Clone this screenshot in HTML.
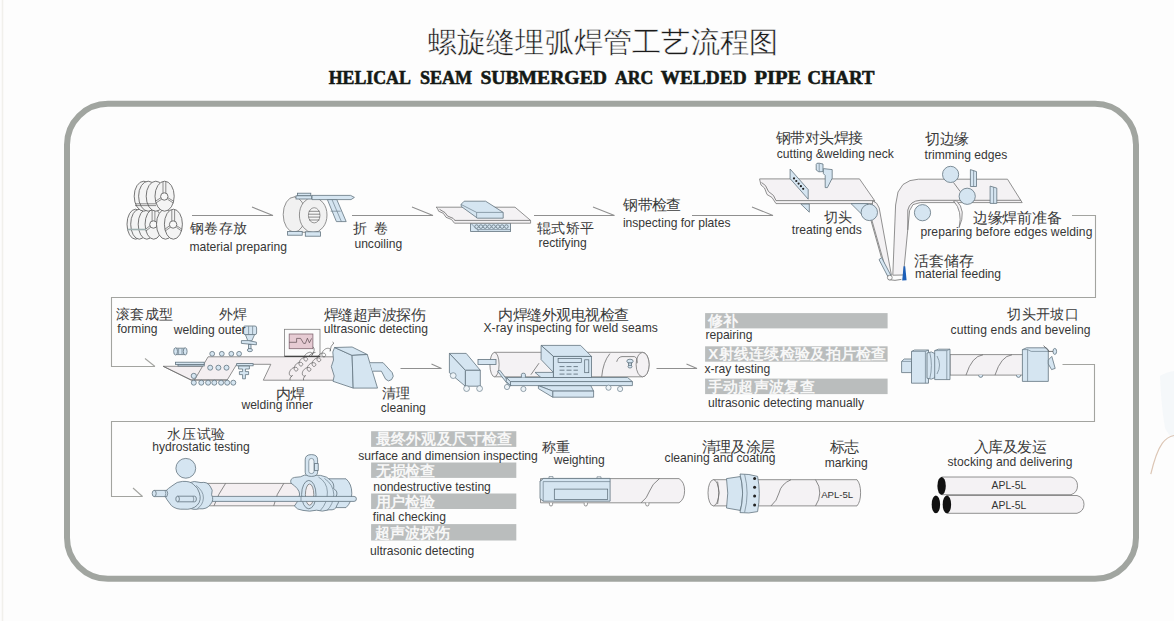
<!DOCTYPE html>
<html><head><meta charset="utf-8"><title>Helical Seam Submerged Arc Welded Pipe Chart</title>
<style>
html,body{margin:0;padding:0;background:#fdfdfd;}
body{width:1174px;height:621px;overflow:hidden;position:relative;font-family:"Liberation Sans",sans-serif;}
svg{position:absolute;left:0;top:0;}
.t{font-family:"Liberation Sans",sans-serif;font-size:12.1px;fill:#363636;transform:translateX(-0.6px);}
.c{font-family:"Liberation Sans",sans-serif;fill:#3b3b3b;transform:translateY(0.5px);}
.b{font-family:"Liberation Sans",sans-serif;font-size:15px;font-weight:700;fill:#f7f7f7;transform:translateY(1px);}
.ln{stroke:#a3a4a0;stroke-width:1.1;fill:none;}
.ar{stroke:#8f8f8f;stroke-width:1.05;fill:none;}
.bl{fill:#d5e5f1;stroke:#62737f;stroke-width:0.8;}
.pp{fill:#f4f2f4;stroke:#767676;stroke-width:0.8;}
.ol{fill:none;stroke:#6d6d6d;stroke-width:0.8;}
.bar{fill:#babdbd;}
.cl{fill:#f4f4f4;stroke:#5f5f5f;stroke-width:0.85;}
.clh{fill:#f8f8f8;stroke:#5f5f5f;stroke-width:0.85;}
.cs{fill:none;stroke:#5f5f5f;stroke-width:0.7;}
.band{fill:none;stroke:#9fb0b0;stroke-width:1.6;}
.pp2{fill:#f1f1f1;stroke:#707070;stroke-width:0.75;}
.hub{fill:#f6f6f6;stroke:#6f6f6f;stroke-width:0.7;}
.bls{fill:none;stroke:#6d7f8c;stroke-width:0.7;}
.dot{fill:#222;}
.faint{fill:#f5f8fa;stroke:none;}
.brn{fill:none;stroke:#dcc6b5;stroke-width:1.2;}
.edge{fill:none;stroke:#f1f0ec;stroke-width:1.5;}
.apl{font-family:"Liberation Sans",sans-serif;fill:#333;}
.wh2{fill:#eef4f8;stroke:#6d7f8c;stroke-width:0.7;}
.bls2{fill:#d5e5f1;stroke:#556672;stroke-width:0.7;}
.dash{fill:none;stroke:#556672;stroke-width:0.8;}
.thin{fill:none;stroke:#555;stroke-width:0.8;}
.pp3{fill:#f4eff1;stroke:#767676;stroke-width:0.8;}
.mon{fill:#fbfbfb;stroke:#808080;stroke-width:0.8;}
.pink{fill:#e6cbd3;stroke:#806570;stroke-width:0.8;}
.wave{fill:none;stroke:#5a4a50;stroke-width:0.7;}
.thk{fill:none;stroke:#444;stroke-width:1.3;}
.wire{fill:none;stroke:#444;stroke-width:0.6;}
.wh{fill:#fbfbfb;stroke:#6d6d6d;stroke-width:0.7;}
.dk{fill:#111;}
.blu{fill:#1c5fb8;}
</style></head>
<body>
<svg width="1174" height="621" viewBox="0 0 1174 621">
<!-- page inner white -->
<rect x="67" y="103.8" width="1069" height="475" rx="41" ry="41" fill="#fdfdfd" stroke="#a1a5a0" stroke-width="6"/>

<ellipse class="cl" cx="135.6" cy="224.2" rx="8.6" ry="15.0" />
<ellipse class="cl" cx="139.3" cy="224.2" rx="8.6" ry="15.0" />
<ellipse class="cl" cx="146.8" cy="224.2" rx="8.6" ry="15.0" />
<ellipse class="cl" cx="153.7" cy="224.2" rx="8.6" ry="15.0" />
<circle class="clh" cx="153.4" cy="224.5" r="3.7" />
<path class="cs" d="M152.1 209.8V221.1M154.9 209.8V221.1" />
<path class="cs" d="M150.0 225.7L145.6 229.2M150.5 227.4L145.9 231.0M156.9 225.7L161.8 229.2M156.8 227.4L161.5 231.0" />
<path class="band" d="M127.5 229.5H146" />
<ellipse class="cl" cx="165.5" cy="224.2" rx="9.0" ry="15.0" />
<ellipse class="cl" cx="173.4" cy="224.2" rx="9.0" ry="15.0" />
<circle class="clh" cx="173.1" cy="224.5" r="3.7" />
<path class="cs" d="M171.8 209.8V221.1M174.6 209.8V221.1" />
<path class="cs" d="M169.7 225.7L164.9 229.2M170.2 227.4L165.2 231.0M176.6 225.7L181.9 229.2M176.5 227.4L181.6 231.0" />
<ellipse class="cl" cx="143.8" cy="196.2" rx="9.6" ry="15.0" />
<ellipse class="cl" cx="148.2" cy="196.2" rx="9.6" ry="15.0" />
<ellipse class="cl" cx="155.8" cy="196.2" rx="9.6" ry="15.0" />
<ellipse class="cl" cx="164.6" cy="196.2" rx="9.6" ry="15.0" />
<circle class="clh" cx="164.3" cy="196.5" r="3.7" />
<path class="cs" d="M163.0 181.8V193.1M165.8 181.8V193.1" />
<path class="cs" d="M160.9 197.7L155.5 201.2M161.4 199.4L155.8 203.0M167.8 197.7L173.7 201.2M167.7 199.4L173.4 203.0" />
<path class="cs" d="M135 203.8H156" />
<path class="cs" d="M135 205.6H156" />
<polygon class="pp2" points="294.0,197.0 313.0,197.4 313.0,232.6 294.0,232.0" />
<ellipse class="pp2" cx="294.2" cy="214.5" rx="11.0" ry="17.6" />
<ellipse class="pp2" cx="313.2" cy="215.0" rx="13.8" ry="17.6" />
<ellipse class="hub" cx="314.2" cy="215.3" rx="5.8" ry="7.6" />
<path class="cs" d="M308.8 211.3H319.6M308.5 214.2H320M308.5 217.1H320M309 220H319.4" />
<rect class="bl" x="297.4" y="193.2" width="13.4" height="2.6" />
<rect class="bl" x="296.0" y="195.8" width="15.8" height="3.2" />
<path class="bl" d="M312 195.4H350.6L354.4 197.4L351 199.6H312Z" />
<path class="bl" d="M327.4 199.6L336.8 199.6L346.2 221.6L336.4 221.6Z" />
<path class="bls" d="M332 199.6L341.4 221.6M330.6 211.2H340.6" />
<rect class="bl" x="287.6" y="231.4" width="14.6" height="3.8" />
<rect class="bl" x="305.3" y="231.8" width="15.3" height="4.4" />
<rect class="bl" x="470.6" y="223.0" width="40.0" height="8.4" />
<path class="bls" d="M470.6 223L479 231.4" />
<circle class="bl" cx="476.6" cy="226.6" r="1.8" />
<circle class="bl" cx="480.9" cy="226.6" r="1.8" />
<circle class="bl" cx="485.1" cy="226.6" r="1.8" />
<circle class="bl" cx="489.4" cy="226.6" r="1.8" />
<circle class="bl" cx="493.6" cy="226.6" r="1.8" />
<circle class="bl" cx="497.9" cy="226.6" r="1.8" />
<circle class="bl" cx="502.1" cy="226.6" r="1.8" />
<circle class="bl" cx="506.4" cy="226.6" r="1.8" />
<path class="bls" d="M477 229.6H510.6" />
<polygon class="pp" points="436.0,207.2 515.0,207.2 530.6,220.4 530.6,223.2 454.5,223.2 451.5,219.5 446.0,217.3 443.4,213.4 438.6,211.2 437.6,208.6" />
<path class="ol" d="M454.5 220.4H530.6" />
<path class="ol" d="M439.5 209.3L445 212.6L447.5 216L453 218.3L455 220.4" />
<polygon class="bl" points="464.2,201.2 485.6,201.2 503.2,212.4 503.2,218.2 477.5,218.2 461.2,206.4 461.2,204.2" />
<path class="bls" d="M461.2 204.5L476.6 212.4H503.2M476.6 212.4V218.2" />
<polygon class="pp" points="759.6,178.9 859.5,178.9 874.6,200.6 874.6,203.6 776.0,203.6 772.0,197.5 767.0,194.5 764.5,188.0 761.0,185.0 760.0,181.0" />
<path class="ol" d="M776 200.6H874.6" />
<path class="ol" d="M761.5 182.5L765.5 185.6L768.5 191.5L773.5 195.5L776 200.6" />
<polygon class="bl" points="790.1,169.0 808.2,189.6 808.2,199.2 790.1,178.6" />
<polygon class="bl" points="800.8,204.0 809.3,204.0 809.3,212.2" />
<circle class="dot" cx="794.0" cy="178.4" r="1.1" />
<circle class="dot" cx="796.3" cy="181.0" r="1.1" />
<circle class="dot" cx="798.6" cy="183.6" r="1.1" />
<circle class="dot" cx="800.9" cy="186.2" r="1.1" />
<circle class="dot" cx="803.2" cy="188.8" r="1.1" />
<path class="bl" d="M816.2 164.4Q816.2 162.8 819.2 163.2L823 164V171.6Q818 172.8 816.2 170Z" />
<polygon class="bl" points="823.4,168.6 832.2,169.6 832.2,178.2 827.4,187.6 825.2,187.6 825.2,175.5 823.4,173.6" />
<path class="bls" d="M819.2 163.4V171.8" />
<polygon class="bl" points="851.0,203.6 868.0,203.6 862.0,214.5" />
<polygon class="pp" points="872.6,200.8 876.6,203.2 879.2,208.0 891.4,275.2 887.6,275.6 871.6,219.2" />
<path class="ol" d="M871 220.5L881.4 257.4" />
<polygon class="bl" points="879.0,259.6 881.6,257.6 891.0,275.6 888.4,277.6" />
<circle class="bl" cx="869.3" cy="212.4" r="8.2" />
<polygon class="pp" points="892.8,275.2 895.6,205.0 898.0,192.0 903.0,184.5 910.0,180.6 918.5,179.2 1007.5,179.2 1022.2,202.6 920.2,202.6 913.0,204.6 909.6,210.6 903.4,275.0" />
<path class="ol" d="M920.2 200.3H1021" />
<path class="ol" d="M920.2 200.3Q910 200.8 907.8 210V229.9" />
<path class="ol" d="M888.6 279.6Q895 281.2 901.4 279.4" />
<circle class="wh" cx="889.8" cy="277.6" r="2.4" />
<polygon class="blu" points="902.2,280.4 906.6,280.2 905.2,266.2 903.6,266.2" />
<path class="ol" d="M953.5 182.5L960.2 191.5" />
<circle class="bl" cx="950.6" cy="174.4" r="8.1" />
<circle class="bl" cx="967.2" cy="196.3" r="8.1" />
<circle class="bl" cx="922.5" cy="212.7" r="8.1" />
<polygon class="bl" points="970.4,169.6 976.5,171.6 976.5,186.5 970.4,186.5" />
<path class="bls" d="M973.6 170.6V186.5" />
<polygon class="bl" points="990.1,186.1 996.8,188.1 996.8,203.4 990.1,203.4" />
<path class="bls" d="M993.6 187.1V203.4" />
<path class="pp" d="M956.3 200.6Q966.8 210 959.1 227.6Q962.8 211 953.6 201Z" />
<path class="pp3" d="M163.2 366.3H205L194.5 380H191.1Z" />
<path class="pp3" d="M194.5 380L208.1 356.8H336V380.2H263.3L270.8 364.3H236.7L227.2 380Z" />
<path class="ol" d="M163.2 366.3L191.1 380H227.2" />
<rect class="bl" x="175.4" y="362.2" width="28.8" height="2.2" />
<rect class="bl" x="178.0" y="364.4" width="26.2" height="1.6" />
<rect class="bl" x="236.7" y="363.6" width="16.4" height="2.2" />
<path class="bl" d="M175.5 348.2H185.2V354.6H175.5Z" />
<ellipse class="bl" cx="175.6" cy="351.4" rx="1.9" ry="3.6" />
<ellipse class="bl" cx="185.2" cy="351.4" rx="1.9" ry="3.6" />
<path class="bls" d="M178.6 348.6V354.2M182 348.6V354.2" />
<circle class="bl" cx="212.2" cy="353.8" r="2.4" />
<circle class="bl" cx="221.8" cy="353.8" r="2.4" />
<circle class="bl" cx="231.3" cy="353.8" r="2.4" />
<circle class="bl" cx="239.1" cy="353.8" r="2.4" />
<circle class="bl" cx="210.2" cy="367.7" r="2.5" />
<circle class="bl" cx="218.4" cy="367.7" r="2.5" />
<circle class="bl" cx="226.5" cy="367.7" r="2.5" />
<circle class="bl" cx="193.8" cy="382.7" r="2.5" />
<circle class="bl" cx="201.3" cy="382.7" r="2.5" />
<circle class="bl" cx="208.1" cy="382.7" r="2.5" />
<circle class="bl" cx="214.3" cy="382.7" r="2.5" />
<circle class="bl" cx="221.1" cy="382.7" r="2.5" />
<circle class="bl" cx="227.2" cy="382.7" r="2.5" />
<circle class="bl" cx="233.3" cy="382.7" r="2.5" />
<circle class="bl" cx="193.8" cy="375.9" r="2.6" />
<path class="bl" d="M243.6 327.4Q243.6 326 245 326H255Q256.6 326 256.6 328V333Q256.6 334.6 255 334.6H245Q243.6 334.6 243.6 333Z" />
<path class="bls" d="M248.6 326.2V334.4M252.6 326.2V334.4" />
<polygon class="bl" points="245.4,334.6 254.6,334.6 251.8,340.8 247.8,340.8" />
<polygon class="bl" points="241.4,340.6 248.6,340.6 256.4,342.2 256.4,344.8 241.4,343.4" />
<rect class="bl" x="248.4" y="344.6" width="2.6" height="4.4" />
<ellipse class="bl" cx="249.9" cy="350.1" rx="2.6" ry="1.6" />
<path class="bl" d="M238.6 366H249.4V369H245.4V371.6H248.6V374.6H245.4V378.8H242.6V374.6H239.4V371.6H242.6V369H238.6Z" />
<rect class="mon" x="284.5" y="329.3" width="35.5" height="27.0" />
<rect class="pink" x="289.2" y="334.0" width="23.7" height="14.7" />
<path class="wave" d="M289.2 342.3H296.6V338.4H300.6L303.6 343.4H305.4L307.4 338.2L309.4 342.8L311.6 338.4" />
<path class="thk" d="M284.5 356.3H320" />
<path class="wire" d="M292.5 375.5 L292.2 375.7 L291.9 375.9 L291.6 376.0 L291.3 376.0 L290.9 376.0 L290.6 375.9 L290.3 375.7 L290.0 375.5 L289.7 375.2 L289.5 374.8 L289.4 374.3 L289.3 373.8 L289.3 373.3 L289.3 372.7 L289.5 372.1 L289.7 371.6 L290.0 371.0 L290.3 370.4 L290.7 369.8 L291.2 369.3 L291.7 368.8 L292.2 368.4 L292.8 368.1 L293.4 367.8 L293.9 367.6 L294.5 367.4 L295.1 367.3 L295.6 367.3 L296.1 367.4 L296.6 367.5 L297.0 367.7 L297.3 368.0 L297.5 368.3 L297.7 368.6 L297.8 368.9 L297.9 369.3 L297.8 369.6 L297.8 369.9 L297.6 370.2 L297.4 370.5 L297.1 370.7 L296.8 370.9 L296.5 371.0 L296.1 371.0 L295.8 371.0 L295.5 370.9 L295.1 370.7 L294.9 370.5 L294.6 370.2 L294.4 369.8 L294.3 369.3 L294.2 368.8 L294.2 368.3 L294.2 367.7 L294.3 367.1 L294.6 366.6 L294.8 366.0 L295.2 365.4 L295.6 364.8 L296.0 364.3 L296.5 363.8 L297.1 363.4 L297.6 363.1 L298.2 362.8 L298.8 362.6 L299.4 362.4 L300.0 362.3 L300.5 362.3 L301.0 362.4 L301.4 362.5 L301.8 362.7 L302.2 363.0 L302.4 363.3 L302.6 363.6 L302.7 363.9 L302.8 364.3 L302.7 364.6 L302.6 364.9 L302.5 365.2 L302.2 365.5 L302.0 365.7 L301.7 365.9 L301.4 366.0 L301.0 366.0 L300.7 366.0 L300.3 365.9 L300.0 365.7 L299.7 365.5 L299.5 365.2 L299.3 364.8 L299.1 364.3 L299.0 363.8 L299.0 363.3 L299.1 362.7 L299.2 362.1 L299.4 361.6 L299.7 361.0 L300.0 360.4 L300.4 359.8 L300.9 359.3 L301.4 358.8 L302.0 358.4 L302.5 358.1 L303.1 357.8 L303.7 357.6 L304.3 357.4 L304.8 357.3 L305.4 357.3 L305.9 357.4 L306.3 357.5 L306.7 357.7 L307.0 358.0 L307.3 358.3 L307.5 358.6 L307.6 358.9 L307.6 359.3 L307.6 359.6 L307.5 359.9 L307.3 360.2 L307.1 360.5 L306.9 360.7 L306.6 360.9 L306.2 361.0 L305.9 361.0 L305.6 361.0 L305.2 360.9 L304.9 360.7 L304.6 360.5 L304.4 360.2 L304.1 359.8 L304.0 359.3 L303.9 358.8 L303.9 358.3 L304.0 357.7 L304.1 357.1 L304.3 356.6 L304.6 356.0 L304.9 355.4 L305.3 354.8 L305.8 354.3 L306.3 353.8 L306.8 353.4 L307.4 353.1 L308.0 352.8 L308.6 352.6 L309.2 352.4 L309.7 352.3 L310.3 352.3 L310.7 352.4 L311.2 352.5 L311.6 352.7 L311.9 353.0 L312.2 353.3 L312.4 353.6 L312.5 353.9 L312.5 354.3 L312.5 354.6 L312.4 354.9 L312.2 355.2 L312.0 355.5"/>
<path class="wire" d="M305.5 375.5 L305.2 375.7 L304.9 375.9 L304.6 376.0 L304.3 376.0 L303.9 376.0 L303.6 375.9 L303.2 375.7 L303.0 375.4 L302.7 375.1 L302.5 374.7 L302.4 374.3 L302.3 373.8 L302.3 373.3 L302.4 372.7 L302.5 372.1 L302.7 371.5 L303.0 370.9 L303.4 370.4 L303.8 369.8 L304.3 369.3 L304.8 368.9 L305.3 368.5 L305.9 368.1 L306.5 367.9 L307.1 367.6 L307.7 367.5 L308.2 367.5 L308.8 367.5 L309.2 367.6 L309.7 367.7 L310.1 367.9 L310.4 368.2 L310.6 368.5 L310.8 368.8 L310.9 369.1 L310.9 369.5 L310.9 369.8 L310.8 370.1 L310.6 370.4 L310.4 370.7 L310.1 370.9 L309.8 371.1 L309.5 371.2 L309.2 371.2 L308.8 371.2 L308.5 371.1 L308.1 370.9 L307.9 370.6 L307.6 370.3 L307.4 369.9 L307.3 369.5 L307.2 369.0 L307.2 368.5 L307.3 367.9 L307.4 367.3 L307.6 366.7 L307.9 366.1 L308.3 365.6 L308.7 365.0 L309.2 364.5 L309.7 364.1 L310.2 363.7 L310.8 363.3 L311.4 363.1 L312.0 362.8 L312.6 362.7 L313.1 362.7 L313.7 362.7 L314.1 362.8 L314.6 362.9 L315.0 363.1 L315.3 363.4 L315.5 363.7 L315.7 364.0 L315.8 364.3 L315.8 364.7 L315.8 365.0 L315.7 365.3 L315.5 365.6 L315.3 365.9 L315.0 366.1 L314.7 366.3 L314.4 366.4 L314.1 366.4 L313.7 366.4 L313.4 366.3 L313.0 366.1 L312.8 365.8 L312.5 365.5 L312.3 365.1 L312.2 364.7 L312.1 364.2 L312.1 363.7 L312.2 363.1 L312.3 362.5 L312.5 361.9 L312.8 361.3 L313.2 360.8 L313.6 360.2 L314.1 359.7 L314.6 359.3 L315.1 358.9 L315.7 358.5 L316.3 358.3 L316.9 358.0 L317.5 357.9 L318.0 357.9 L318.6 357.9 L319.0 358.0 L319.5 358.1 L319.9 358.3 L320.2 358.6 L320.4 358.9 L320.6 359.2 L320.7 359.5 L320.7 359.9 L320.7 360.2 L320.6 360.5 L320.4 360.8 L320.2 361.1 L319.9 361.3 L319.6 361.5 L319.3 361.6 L319.0 361.6 L318.6 361.6 L318.3 361.5 L317.9 361.3 L317.7 361.0 L317.4 360.7 L317.2 360.3 L317.1 359.9 L317.0 359.4 L317.0 358.9 L317.1 358.3 L317.2 357.7 L317.4 357.1 L317.7 356.5 L318.1 356.0 L318.5 355.4 L319.0 354.9 L319.5 354.5 L320.0 354.1 L320.6 353.7 L321.2 353.5 L321.8 353.2 L322.4 353.1 L322.9 353.1 L323.5 353.1 L323.9 353.2 L324.4 353.3 L324.8 353.5 L325.1 353.8 L325.3 354.1 L325.5 354.4 L325.6 354.7 L325.6 355.1 L325.6 355.4 L325.5 355.7 L325.3 356.0 L325.1 356.3 L324.8 356.5 L324.5 356.7 L324.2 356.8 L323.9 356.8 L323.5 356.8 L323.2 356.7 L322.8 356.5 L322.6 356.2 L322.3 355.9 L322.1 355.5 L322.0 355.1 L321.9 354.6 L321.9 354.1 L322.0 353.5 L322.1 352.9 L322.3 352.3 L322.6 351.7 L323.0 351.2 L323.4 350.6 L323.9 350.1 L324.4 349.7 L324.9 349.3 L325.5 348.9 L326.1 348.7 L326.7 348.4 L327.3 348.3 L327.8 348.3 L328.4 348.3 L328.8 348.4 L329.3 348.5 L329.7 348.7 L330.0 349.0 L330.2 349.3 L330.4 349.6 L330.5 349.9 L330.5 350.3 L330.5 350.6 L330.4 350.9 L330.2 351.2 L330.0 351.5"/>
<path class="wire" d="M292.5 375.5Q289 378 290 380.2M305.5 375.5Q302.5 378.5 303.5 380.2" />
<path class="wire" d="M311.5 355.5Q316 350 313 346.8M330 351Q331 345 333 344Q335 343 332.5 342" />
<path class="wire" d="M309 355.8Q312.5 352 315.5 352.4" />
<polygon class="bl" points="334.6,347.5 352.1,355.4 353.2,388.1 333.0,381.3 334.2,376.0 331.3,366.7 333.5,360.0 332.8,352.0" />
<polygon class="bl" points="334.6,347.5 352.1,347.0 367.3,354.5 352.1,355.4" />
<polygon class="bl" points="352.1,355.4 367.3,354.5 377.5,388.1 353.2,388.1" />
<path class="bl" d="M370 362.7H383.1L392.2 372.6Q394.6 376.4 391.6 379.6Q388.4 382.4 385.6 379.2L381.4 371.2H372.6" />
<path class="pp" d="M494.5 352.3H642.6A6.5 12.25 0 0 1 642.6 376.8H494.5Z" />
<ellipse class="pp" cx="642.6" cy="364.6" rx="6.5" ry="12.2" />
<ellipse class="pp" cx="494.5" cy="364.6" rx="4.6" ry="12.2" />
<path class="ol" d="M601.7 376.8Q603 362 609.9 353.6" />
<path class="ol" d="M616.7 361.8Q618 357 622 356.6H634.4Q637.6 357.6 637.2 363.2" />
<ellipse class="bl" cx="630.0" cy="361.2" rx="3.2" ry="2.0" />
<rect class="bl" x="628.4" y="363.0" width="3.2" height="2.8" />
<ellipse class="bl" cx="630.0" cy="366.6" rx="2.0" ry="1.4" />
<path class="ol" d="M530.9 374.7L539 363.2" />
<rect class="bl" x="478.0" y="359.4" width="18.0" height="5.0" />
<polygon class="bl" points="449.4,353.4 466.2,353.4 480.3,370.3 465.3,370.3" />
<polygon class="bl" points="465.3,370.3 480.3,370.3 480.3,386.2 465.3,386.2" />
<polygon class="bl" points="449.4,353.4 465.3,370.3 465.3,386.2 449.4,372.8" />
<circle class="wh2" cx="453.2" cy="375.6" r="2.9" />
<circle class="wh2" cx="466.6" cy="388.6" r="2.9" />
<circle class="wh2" cx="479.6" cy="388.6" r="2.9" />
<polygon class="bl" points="497.6,371.2 499.8,370.2 511.4,385.4 509.4,386.4" />
<polygon class="bl" points="538.4,385.6 590.8,385.6 593.6,391.1 552.7,391.1" />
<polygon class="bl" points="552.7,391.1 593.6,391.1 593.6,397.2 552.7,397.2" />
<polygon class="bl" points="538.4,385.6 552.7,391.1 552.7,397.2 538.4,388.6" />
<polygon class="bl" points="506.3,377.5 627.6,377.5 632.4,381.6 510.4,381.6" />
<polygon class="bl" points="510.4,381.6 632.4,381.6 632.4,385.6 510.4,385.6" />
<polygon class="bl" points="506.3,377.5 510.4,381.6 510.4,385.6 506.3,381.4" />
<circle class="wh2" cx="507.0" cy="387.0" r="2.6" />
<circle class="wh2" cx="523.4" cy="389.0" r="2.6" />
<circle class="wh2" cx="608.5" cy="387.7" r="2.6" />
<circle class="wh2" cx="620.1" cy="389.0" r="2.6" />
<path class="bl" d="M521.4 377.5V374.4A2 1.2 0 0 1 525.4 374.4V377.5" />
<polygon class="bl" points="535.0,372.4 553.4,372.4 553.4,377.5 541.0,377.5" />
<polygon class="bl" points="541.1,345.4 580.6,345.4 591.5,356.4 553.4,356.4" />
<polygon class="bl" points="541.1,345.4 553.4,356.4 553.4,372.4 541.1,359.6" />
<rect class="bl" x="553.4" y="356.4" width="38.1" height="21.1" />
<rect class="bls2" x="558.1" y="358.4" width="23.2" height="4.1" />
<path class="dash" d="M559.5 366.6H564.5M566.5 366.6H571.5M573.5 366.6H577.9M559.5 370.2H564.5M566.5 370.2H571.5M573.5 370.2H577.9M559.5 374.1H564.5M566.5 374.1H571.5M573.5 374.1H577.9" />
<rect class="bls2" x="584.7" y="359.8" width="4.1" height="12.9" />
<path class="pp" d="M950 354.6H1023.3V375.1H950Z" />
<path class="ol" d="M966 375.1Q972 356 983 354.8M995 375.1Q1001 356 1012 354.8" />
<path class="bl" d="M978.6 375.1A2 2.2 0 0 0 982.8 375.1M1016.4 375.1A2 2.2 0 0 0 1020.6 375.1" />
<polygon class="bl" points="901.6,361.4 904.2,359.0 913.4,359.0 913.4,372.6 901.6,372.6" />
<path class="bls" d="M901.6 361.4H911.5V372.6" />
<polygon class="bl" points="911.5,351.4 914.6,350.0 928.5,350.0 928.5,383.2 911.5,383.2" />
<path class="bls" d="M911.5 351.4H925.4V383.2M925.4 351.4L928.5 350" />
<path class="bl" d="M927 353Q931.6 350.6 935 353.6Q937.8 365.4 935 377.6Q931.6 380.4 927 378.2Z" />
<path class="bls" d="M929.8 352.6Q933 365.4 929.8 378.6" />
<polygon class="bl" points="934.7,350.6 938.4,349.2 950.0,349.2 950.0,379.6 934.7,379.6" />
<path class="bls" d="M934.7 350.6H946.8V379.6M946.8 350.6L950 349.2" />
<path class="bls" d="M937 356Q942 365 937 374" />
<polygon class="bl" points="1022.4,349.6 1026.6,347.8 1046.4,347.8 1048.3,350.0 1048.3,381.4 1022.4,381.4" />
<path class="bls" d="M1022.4 349.6H1027.6L1031.2 351.4H1048.3M1027.6 349.6V381.4" />
<path class="thin" d="M1043.6 345.6L1049.2 351.6" />
<ellipse class="bl" cx="1054.8" cy="351.4" rx="1.8" ry="3.0" />
<path class="thin" d="M1048.3 351.4H1053" />
<polygon class="bl" points="1048.3,360.0 1051.8,356.4 1055.2,368.4 1051.6,369.6 1048.3,364.0" />
<path class="pp3" d="M200 483.4H312V505.8H200Z" />
<path class="ol" d="M225.6 483.4Q218 494 214 505.8M283.8 483.4Q276 494 273.7 505.8" />
<path class="bl" d="M328.9 478.8H346Q351.8 484 351.8 493.2Q351.8 502.4 346 507.6H328.9Z" />
<path class="bl" d="M291 483.2Q289.5 478.6 294.6 477.4L300.4 476.8Q304 474.4 309 475.2L320.6 475.4Q327.6 476.6 330.6 480.2Q334.6 483.4 333.6 488.6Q338.6 491.4 336.2 496.4Q340.6 500.8 337 505Q336 510.6 329 509.8Q322 512.2 316.6 510.2Q309.6 512 303 510.4Q296.8 509.8 294.4 506Q300 500 299.6 494Q299.2 488.6 291 483.2Z" />
<path class="bls" d="M318.4 477Q327 482 327.4 492Q327.6 503 320.2 510.6M324.4 478.4Q333.4 484.4 333.8 494.4Q333.2 504.6 327 510.4" />
<ellipse class="bl" cx="308.8" cy="494.6" rx="7.2" ry="14.2" />
<ellipse class="pp3" cx="309.6" cy="494.6" rx="4.2" ry="10.6" />
<path class="bl" d="M305.2 459.8Q305.2 454.6 311.4 454.6Q317.6 454.6 317.6 459.8V472.2Q317.6 476.4 311.4 476.4Q305.2 476.4 305.2 472.2Z" />
<path class="wh2" d="M308.8 461.2Q308.8 458.4 311.4 458.4Q314 458.4 314 461.2V471.4Q314 473.6 311.4 473.6Q308.8 473.6 308.8 471.4Z" />
<rect class="bl" x="314.4" y="463.6" width="3.8" height="6.8" />
<path class="bl" d="M210 496.4H354Q356.4 496.4 356.4 498.9Q356.4 501.4 354 501.4H210Z" />
<path class="bls" d="M301 496.4V501.4" />
<path class="bl" d="M188 483Q194 480.2 201 482.6Q207 481.4 210 486Q213.6 490 211.6 494.8Q214.4 500 210.4 504.4Q207 509.6 199.4 508.8Q192 510.6 188.6 507Z" />
<path class="bl" d="M163.4 493.2Q168.6 487.8 173 485.2Q176.6 481.6 182.6 481.4Q190.2 481 193.4 484.4Q198.2 487.8 199.4 493Q201.8 500.4 197.2 505.2Q192.2 510 184 509.2Q176.2 509.8 171.4 505.6Q166.6 500 163.4 493.2Z" />
<path class="bls" d="M196 485.4Q203.6 491 203.4 498Q203 505 197.4 508.6" />
<path class="bl" d="M177.6 496.2H194.6Q196.4 496.2 196.4 499Q196.4 501.8 194.6 501.8H177.6Z" />
<ellipse class="bl" cx="177.6" cy="499.0" rx="1.8" ry="2.8" />
<path class="bls" d="M193 496.2Q194.6 499 193 501.8" />
<path class="bl" d="M154.2 490.4H166.8Q168.6 493.4 166.8 496.6H154.2Z" />
<ellipse class="bl" cx="154.2" cy="493.5" rx="2.0" ry="3.1" />
<path class="bls" d="M165 490.4Q166.6 493.4 165 496.6" />
<circle class="bl" cx="185.8" cy="468.3" r="9.9" />
<path class="pp" d="M540.5 478.6H679Q684.6 482 684.6 490.7Q684.6 499.4 679 502.8H540.5Z" />
<path class="ol" d="M659.5 478.6Q652 484 649.6 491Q647 498.6 641 502.8" />
<path class="wh" d="M549.4 502.8V504.4A1.6 1.6 0 0 0 552.6 504.4V502.8" />
<path class="wh" d="M584.2 502.8V504.4A1.6 1.6 0 0 0 587.4 504.4V502.8" />
<path class="wh" d="M645.7 502.8V504.4A1.6 1.6 0 0 0 648.9 504.4V502.8" />
<polygon class="bl" points="540.0,481.6 543.2,478.4 610.1,478.4 610.1,501.2 543.2,501.2 540.0,498.6" />
<path class="bls" d="M543.2 481.6H610.1M543.2 481.6V501.2M540 481.6L543.2 478.4" />
<path class="bls" d="M549 478.4V476.6H553V478.4M597 478.4V476.8H601V478.4" />
<rect class="bls2" x="554.3" y="489.1" width="53.4" height="10.5" />
<path class="pp" d="M713.4 479.7H857Q860.6 484 860.6 492.8Q860.6 501.6 857 505.9H713.4Z" />
<ellipse class="pp" cx="713.4" cy="492.8" rx="5.4" ry="13.1" />
<path class="ol" d="M717.6 481.6Q720.6 492.8 717.6 504" />
<path class="ol" d="M791 479.7Q781 484 779 493Q777 501 771 505.9" />
<path class="ol" d="M815.5 479.7Q820 486 819.8 493Q819.6 500 815.5 505.9" />
<path class="bl" d="M726.5 478.6L740 476.6L741.6 481Q744 493 741.6 505L740 510.4L726.5 508Q729 493 726.5 478.6Z" />
<path class="bl" d="M740 474Q749 473.8 757.6 476.4Q761 493 757.6 511.6Q749 513.8 740 512.6Q745.2 493 740 474Z" />
<path class="bls" d="M744.6 474.4Q749.6 493 744.6 512.4" />
<circle class="dot" cx="754.6" cy="478.4" r="1.5" />
<circle class="dot" cx="754.6" cy="487.2" r="1.5" />
<circle class="dot" cx="754.6" cy="496.0" r="1.5" />
<circle class="dot" cx="754.6" cy="505.0" r="1.5" />
<path class="pp" d="M946.9 495.5H1077Q1084 497.6 1084 504.4Q1084 511.2 1077 513.3H946.9Z" />
<ellipse class="dk" cx="946.9" cy="504.4" rx="4.2" ry="8.9" />
<ellipse class="dk" cx="935.9" cy="504.4" rx="4.2" ry="8.9" />
<path class="pp" d="M941.6 477H1071Q1077.5 479 1077.5 485.8Q1077.5 492.6 1071 494.7H941.6Z" />
<ellipse class="dk" cx="941.6" cy="485.9" rx="4.2" ry="8.9" />
<text class="apl" x="991.6" y="488.8" font-size="10.4">APL-5L</text>
<text class="apl" x="991.6" y="508.7" font-size="10.4">APL-5L</text>
<text class="apl" x="821.2" y="497.8" font-size="9.6">APL-5L</text>
<path class="faint" d="M1160 376Q1166 372 1174 371V438Q1168 435 1165 428Q1161 405 1160 376Z" />
<path class="brn" d="M1150.8 474.2Q1156 452 1162.4 443.2Q1167 437 1174 435.5" />
<path class="edge" d="M2.5 0V621" />
<!-- titles -->
<text x="427.8" y="52" font-family="Liberation Sans" font-size="29" fill="#1a1a1a" stroke="#fdfdfd" stroke-width="0.45" textLength="350.5" lengthAdjust="spacingAndGlyphs">螺旋缝埋弧焊管工艺流程图</text>
<g font-family="Liberation Serif" font-size="18" font-weight="700" fill="#141915" stroke="#141915" stroke-width="0.55"><text x="328.7" y="84.4" textLength="82.2" lengthAdjust="spacingAndGlyphs">HELICAL</text><text x="419.9" y="84.4" textLength="52.3" lengthAdjust="spacingAndGlyphs">SEAM</text><text x="480.4" y="84.4" textLength="126.5" lengthAdjust="spacingAndGlyphs">SUBMERGED</text><text x="615.0" y="84.4" textLength="38.3" lengthAdjust="spacingAndGlyphs">ARC</text><text x="660.8" y="84.4" textLength="85.8" lengthAdjust="spacingAndGlyphs">WELDED</text><text x="754.4" y="84.4" textLength="46.7" lengthAdjust="spacingAndGlyphs">PIPE</text><text x="807.5" y="84.4" textLength="66.9" lengthAdjust="spacingAndGlyphs">CHART</text></g>

<!-- flow lines -->
<polyline class="ln" points="1072,215.5 1095.5,215.5 1095.5,297.5 111.5,297.5 111.5,366.5 155,366.5"/>
<line class="ln" x1="145" y1="358.5" x2="155" y2="366.5"/>
<polyline class="ln" points="1062.5,364.5 1094.5,364.5 1094.5,421.5 111.5,421.5 111.5,496.5 142.5,496.5"/>
<line class="ln" x1="133" y1="488" x2="142.5" y2="496.5"/>

<!-- row1 arrows -->
<g class="ar">
<path d="M192 215.5H273L252 207"/>
<path d="M352 215.5H433L412 207"/>
<path d="M534 215.5H614.5L593 207"/>
<path d="M692 215.5H773L752 207"/>
<path d="M400.5 368.5H441.5L431.5 364"/>
<path d="M656.5 368.5H697L686.5 364"/>
</g>

<!-- row1 labels -->
<text class="c" x="189.8" y="232.5" font-size="14.3" textLength="57.1">钢卷存放</text>
<text class="t" x="190" y="251">material preparing</text>
<text class="c" x="353" y="232.6" font-size="14.4">折</text><text class="c" x="374.3" y="232.6" font-size="14.4">卷</text>
<text class="t" x="355" y="248">uncoiling</text>
<text class="c" x="536.6" y="232.6" font-size="14.4" textLength="57.6">辊式矫平</text>
<text class="t" x="539" y="246.7">rectifying</text>
<text class="c" x="623.3" y="209.7" font-size="14.5" textLength="58.1">钢带检查</text>
<text class="t" x="623.5" y="226.8">inspecting for plates</text>
<text class="c" x="776.0" y="142.8" font-size="14.5" textLength="87.1">钢带对头焊接</text>
<text class="t" x="777.4" y="158.3">cutting &amp;welding neck</text>
<text class="c" x="925.2" y="143.3" font-size="14.6" textLength="43.8">切边缘</text>
<text class="t" x="925.2" y="158.9">trimming edges</text>
<text class="c" x="824.0" y="221.0" font-size="14.1" textLength="28.1">切头</text>
<text class="t" x="792.4" y="234.4">treating ends</text>
<text class="c" x="973.0" y="222.9" font-size="14.6" textLength="88.5">边缘焊前准备</text>
<text class="t" x="921" y="236.3" textLength="172">preparing before edges welding</text>
<text class="c" x="914.2" y="265.3" font-size="14.6" textLength="59.7">活套储存</text>
<text class="t" x="915.6" y="278.2">material feeding</text>

<!-- row2 labels -->
<text class="c" x="115.7" y="318.5" font-size="14.3" textLength="57.4">滚套成型</text>
<text class="t" x="117.8" y="332.7">forming</text>
<text class="c" x="219.3" y="318.4" font-size="14.0" textLength="28.0">外焊</text>
<text class="t" x="174.3" y="333.7">welding outer</text>
<text class="c" x="324.0" y="319.4" font-size="14.5" textLength="101.7">焊缝超声波探伤</text>
<text class="t" x="324.4" y="332.8">ultrasonic detecting</text>
<text class="c" x="276.4" y="398.1" font-size="14.5" textLength="29.0">内焊</text>
<text class="t" x="242" y="409">welding inner</text>
<text class="c" x="381.8" y="397.8" font-size="14.2" textLength="28.4">清理</text>
<text class="t" x="381.4" y="412">cleaning</text>
<text class="c" x="498.1" y="319.2" font-size="14.6" textLength="131.1">内焊缝外观电视检查</text>
<text class="t" x="484" y="332.2" textLength="174.5">X-ray inspecting for weld seams</text>
<text class="c" x="1007.2" y="318.6" font-size="14.3" textLength="71.5">切头开坡口</text>
<text class="t" x="951.2" y="334" textLength="140">cutting ends and beveling</text>

<!-- bars -->
<rect class="bar" x="705.1" y="313.1" width="182.5" height="15.3"/>
<text class="b" x="708.2" y="325.1" textLength="29.5">修补</text>
<rect class="bar" x="705.1" y="346.3" width="182.5" height="15.4"/>
<text class="b" x="708.2" y="358.4" textLength="178.2">X射线连续检验及拍片检查</text>
<rect class="bar" x="705.1" y="378.6" width="182.5" height="15.5"/>
<text class="b" x="707.7" y="390.7" textLength="106.8">手动超声波复查</text>
<rect class="bar" x="371.1" y="431.2" width="145.2" height="15.7"/>
<text class="b" x="376.3" y="443.4" textLength="135.5">最终外观及尺寸检查</text>
<rect class="bar" x="371.1" y="462.5" width="145.2" height="15.4"/>
<text class="b" x="376.0" y="474.6" textLength="58.6">无损检查</text>
<rect class="bar" x="371.1" y="493.5" width="145.2" height="15.5"/>
<text class="b" x="375.5" y="505.6" textLength="59.5">用户检验</text>
<rect class="bar" x="371.1" y="524.1" width="145.2" height="16.4"/>
<text class="b" x="375.0" y="536.6" textLength="74.6">超声波探伤</text>

<text class="t" x="706" y="339.3">repairing</text>
<text class="t" x="705" y="372.6">x-ray testing</text>
<text class="t" x="708.7" y="406.9">ultrasonic detecting manually</text>

<!-- row3 labels -->
<text class="c" x="167.4" y="438.5" font-size="14.4" textLength="57.7">水压试验</text>
<text class="t" x="152.9" y="451.3">hydrostatic testing</text>
<text class="t" x="358.9" y="460.2">surface and dimension inspecting</text>
<text class="t" x="373.8" y="491.2">nondestructive testing</text>
<text class="t" x="373.4" y="520.9">final checking</text>
<text class="t" x="370.6" y="555">ultrasonic detecting</text>

<text class="c" x="541.7" y="451.0" font-size="14.0" textLength="27.9">称重</text>
<text class="t" x="554.3" y="464.3">weighting</text>
<text class="c" x="701.6" y="451.2" font-size="14.6" textLength="73.6">清理及涂层</text>
<text class="t" x="665.2" y="462.2">cleaning and coating</text>
<text class="c" x="829.6" y="451.0" font-size="14.5" textLength="29.0">标志</text>
<text class="t" x="825.3" y="466.5">marking</text>
<text class="c" x="973.9" y="451.2" font-size="14.5" textLength="72.6">入库及发运</text>
<text class="t" x="948" y="466.4" textLength="125">stocking and delivering</text>


</svg>
</body></html>
